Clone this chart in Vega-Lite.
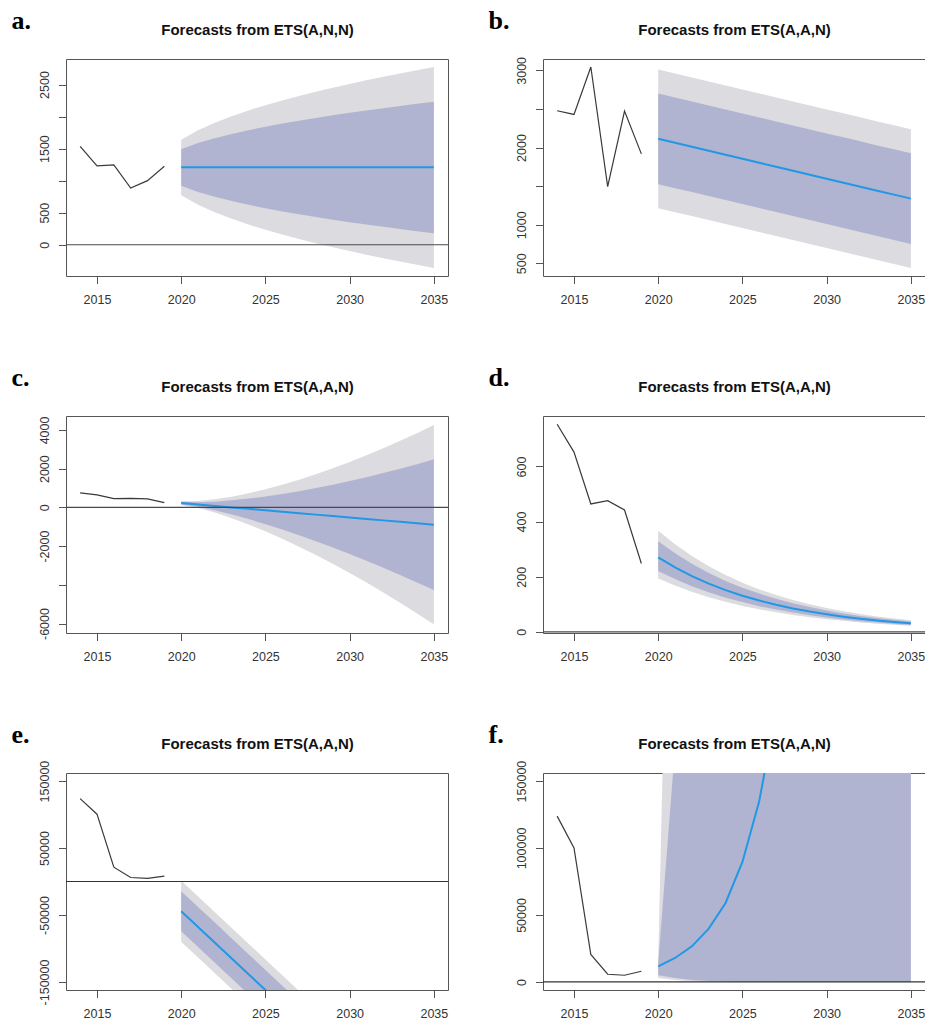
{
  "$schema": "https://vega.github.io/schema/vega-lite/v6.json",
  "background": "white",
  "padding": {"left": 10, "top": 6, "right": 0, "bottom": 0},
  "columns": 2,
  "spacing": {"row": 140, "column": 95},
  "bounds": "flush",
  "config": {
    "view": {"stroke": "#555555", "strokeWidth": 1},
    "axis": {"domain": false, "grid": false, "tickColor": "#555555", "tickSize": 7.5, "tickWidth": 1, "labelFont": "Liberation Sans", "labelFontSize": 12.5, "labelColor": "#333333", "labelOverlap": false, "labelBound": false, "labelFlush": false},
    "axisX": {"labelBaseline": "top", "labelPadding": 10, "titleFont": "Liberation Sans", "titleFontWeight": "bold", "titleFontSize": 15, "titleColor": "#111111", "titleX": 191, "titleY": -242, "titleAlign": "center", "titleBaseline": "alphabetic", "titleAngle": 0},
    "axisY": {"labelAngle": 270, "labelAlign": "center", "labelBaseline": "alphabetic", "labelPadding": 10, "titleFont": "Liberation Serif", "titleFontWeight": "bold", "titleFontSize": 26, "titleColor": "#000000", "titleX": -55, "titleY": -31, "titleAlign": "left", "titleBaseline": "alphabetic", "titleAngle": 0}
  },
  "concat": [
    {
      "width": 382, "height": 217,
      "data": {"values": [
        {"year": 2014, "actual": 1536}, {"year": 2015, "actual": 1229}, {"year": 2016, "actual": 1245},
        {"year": 2017, "actual": 885}, {"year": 2018, "actual": 1000}, {"year": 2019, "actual": 1224},
        {"year": 2020, "fc": 1207, "lo95": 771, "lo80": 921, "hi80": 1489, "hi95": 1639},
        {"year": 2021, "fc": 1207, "lo95": 622, "lo80": 824, "hi80": 1586, "hi95": 1788},
        {"year": 2022, "fc": 1207, "lo95": 505, "lo80": 747, "hi80": 1663, "hi95": 1905},
        {"year": 2023, "fc": 1207, "lo95": 404, "lo80": 681, "hi80": 1729, "hi95": 2006},
        {"year": 2024, "fc": 1207, "lo95": 314, "lo80": 622, "hi80": 1788, "hi95": 2096},
        {"year": 2025, "fc": 1207, "lo95": 233, "lo80": 569, "hi80": 1841, "hi95": 2177},
        {"year": 2026, "fc": 1207, "lo95": 158, "lo80": 520, "hi80": 1890, "hi95": 2252},
        {"year": 2027, "fc": 1207, "lo95": 88, "lo80": 474, "hi80": 1936, "hi95": 2322},
        {"year": 2028, "fc": 1207, "lo95": 22, "lo80": 431, "hi80": 1979, "hi95": 2388},
        {"year": 2029, "fc": 1207, "lo95": -40, "lo80": 390, "hi80": 2020, "hi95": 2450},
        {"year": 2030, "fc": 1207, "lo95": -99, "lo80": 352, "hi80": 2058, "hi95": 2509},
        {"year": 2031, "fc": 1207, "lo95": -156, "lo80": 314, "hi80": 2096, "hi95": 2566},
        {"year": 2032, "fc": 1207, "lo95": -210, "lo80": 279, "hi80": 2131, "hi95": 2620},
        {"year": 2033, "fc": 1207, "lo95": -263, "lo80": 245, "hi80": 2165, "hi95": 2673},
        {"year": 2034, "fc": 1207, "lo95": -314, "lo80": 211, "hi80": 2199, "hi95": 2724},
        {"year": 2035, "fc": 1207, "lo95": -363, "lo80": 179, "hi80": 2231, "hi95": 2773}
      ]},
      "layer": [
        {"transform": [{"filter": "isValid(datum.lo95)"}], "mark": {"type": "area", "color": "#DBDBE0", "clip": true},
         "encoding": {
           "x": {"field": "year", "type": "quantitative", "scale": {"domain": [2013.16, 2035.84], "nice": false, "zero": false}, "axis": {"values": [2015, 2020, 2025, 2030, 2035], "labelExpr": "toString(datum.value)", "title": "Forecasts from ETS(A,N,N)"}},
           "y": {"field": "lo95", "type": "quantitative", "scale": {"domain": [-488, 2898], "nice": false, "zero": false}, "axis": {"values": [0, 500, 1000, 1500, 2000, 2500], "labelExpr": "indexof([0, 500, 1500, 2500], datum.value) >= 0 ? toString(datum.value) : ''", "title": "a."}},
           "y2": {"field": "hi95"}}},
        {"transform": [{"filter": "isValid(datum.lo80)"}], "mark": {"type": "area", "color": "#B0B4D0", "clip": true},
         "encoding": {"x": {"field": "year", "type": "quantitative"}, "y": {"field": "lo80", "type": "quantitative"}, "y2": {"field": "hi80"}}},
        {"transform": [{"filter": "isValid(datum.actual)"}], "mark": {"type": "line", "color": "#3a3a3a", "strokeWidth": 1.2, "clip": true},
         "encoding": {"x": {"field": "year", "type": "quantitative"}, "y": {"field": "actual", "type": "quantitative"}}},
        {"transform": [{"filter": "isValid(datum.fc)"}], "mark": {"type": "line", "color": "#2297E6", "strokeWidth": 2, "clip": true},
         "encoding": {"x": {"field": "year", "type": "quantitative"}, "y": {"field": "fc", "type": "quantitative"}}},
        {"data": {"values": [{"level": 0}]}, "mark": {"type": "rule", "color": "#4a4a4a", "strokeWidth": 1.2, "clip": true},
         "encoding": {"y": {"field": "level", "type": "quantitative"}}}
      ]
    },
    {
      "width": 382, "height": 217,
      "data": {"values": [
        {"year": 2014, "actual": 2477}, {"year": 2015, "actual": 2429}, {"year": 2016, "actual": 3043},
        {"year": 2017, "actual": 1494}, {"year": 2018, "actual": 2472}, {"year": 2019, "actual": 1918},
        {"year": 2020, "fc": 2113, "lo95": 1215, "lo80": 1526, "hi80": 2700, "hi95": 3011},
        {"year": 2021, "fc": 2061, "lo95": 1163, "lo80": 1474, "hi80": 2648, "hi95": 2959},
        {"year": 2022, "fc": 2010, "lo95": 1112, "lo80": 1423, "hi80": 2597, "hi95": 2908},
        {"year": 2023, "fc": 1958, "lo95": 1060, "lo80": 1371, "hi80": 2545, "hi95": 2856},
        {"year": 2024, "fc": 1906, "lo95": 1008, "lo80": 1319, "hi80": 2493, "hi95": 2804},
        {"year": 2025, "fc": 1855, "lo95": 957, "lo80": 1268, "hi80": 2442, "hi95": 2753},
        {"year": 2026, "fc": 1803, "lo95": 905, "lo80": 1216, "hi80": 2390, "hi95": 2701},
        {"year": 2027, "fc": 1751, "lo95": 853, "lo80": 1164, "hi80": 2338, "hi95": 2649},
        {"year": 2028, "fc": 1700, "lo95": 802, "lo80": 1113, "hi80": 2287, "hi95": 2598},
        {"year": 2029, "fc": 1648, "lo95": 750, "lo80": 1061, "hi80": 2235, "hi95": 2546},
        {"year": 2030, "fc": 1596, "lo95": 698, "lo80": 1009, "hi80": 2183, "hi95": 2494},
        {"year": 2031, "fc": 1545, "lo95": 647, "lo80": 958, "hi80": 2132, "hi95": 2443},
        {"year": 2032, "fc": 1493, "lo95": 595, "lo80": 906, "hi80": 2080, "hi95": 2391},
        {"year": 2033, "fc": 1441, "lo95": 543, "lo80": 854, "hi80": 2028, "hi95": 2339},
        {"year": 2034, "fc": 1390, "lo95": 492, "lo80": 803, "hi80": 1977, "hi95": 2288},
        {"year": 2035, "fc": 1338, "lo95": 440, "lo80": 751, "hi80": 1925, "hi95": 2236}
      ]},
      "layer": [
        {"transform": [{"filter": "isValid(datum.lo95)"}], "mark": {"type": "area", "color": "#DBDBE0", "clip": true},
         "encoding": {
           "x": {"field": "year", "type": "quantitative", "scale": {"domain": [2013.16, 2035.84], "nice": false, "zero": false}, "axis": {"values": [2015, 2020, 2025, 2030, 2035], "labelExpr": "toString(datum.value)", "title": "Forecasts from ETS(A,A,N)"}},
           "y": {"field": "lo95", "type": "quantitative", "scale": {"domain": [336, 3147], "nice": false, "zero": false}, "axis": {"values": [500, 1000, 1500, 2000, 2500, 3000], "labelExpr": "indexof([500, 1000, 2000, 3000], datum.value) >= 0 ? toString(datum.value) : ''", "title": "b."}},
           "y2": {"field": "hi95"}}},
        {"transform": [{"filter": "isValid(datum.lo80)"}], "mark": {"type": "area", "color": "#B0B4D0", "clip": true},
         "encoding": {"x": {"field": "year", "type": "quantitative"}, "y": {"field": "lo80", "type": "quantitative"}, "y2": {"field": "hi80"}}},
        {"transform": [{"filter": "isValid(datum.actual)"}], "mark": {"type": "line", "color": "#3a3a3a", "strokeWidth": 1.2, "clip": true},
         "encoding": {"x": {"field": "year", "type": "quantitative"}, "y": {"field": "actual", "type": "quantitative"}}},
        {"transform": [{"filter": "isValid(datum.fc)"}], "mark": {"type": "line", "color": "#2297E6", "strokeWidth": 2, "clip": true},
         "encoding": {"x": {"field": "year", "type": "quantitative"}, "y": {"field": "fc", "type": "quantitative"}}}
      ]
    },
    {
      "width": 382, "height": 217,
      "data": {"values": [
        {"year": 2014, "actual": 745}, {"year": 2015, "actual": 641}, {"year": 2016, "actual": 450},
        {"year": 2017, "actual": 465}, {"year": 2018, "actual": 434}, {"year": 2019, "actual": 243},
        {"year": 2020, "fc": 220, "lo95": 119, "lo80": 154, "hi80": 286, "hi95": 321},
        {"year": 2021, "fc": 146, "lo95": -32, "lo80": 29, "hi80": 263, "hi95": 324},
        {"year": 2022, "fc": 71, "lo95": -271, "lo80": -153, "hi80": 295, "hi95": 413},
        {"year": 2023, "fc": -3, "lo95": -559, "lo80": -368, "hi80": 362, "hi95": 553},
        {"year": 2024, "fc": -77, "lo95": -883, "lo80": -606, "hi80": 452, "hi95": 729},
        {"year": 2025, "fc": -152, "lo95": -1240, "lo80": -866, "hi80": 562, "hi95": 936},
        {"year": 2026, "fc": -226, "lo95": -1623, "lo80": -1142, "hi80": 690, "hi95": 1171},
        {"year": 2027, "fc": -300, "lo95": -2032, "lo80": -1436, "hi80": 836, "hi95": 1432},
        {"year": 2028, "fc": -375, "lo95": -2464, "lo80": -1745, "hi80": 995, "hi95": 1714},
        {"year": 2029, "fc": -449, "lo95": -2917, "lo80": -2068, "hi80": 1170, "hi95": 2019},
        {"year": 2030, "fc": -523, "lo95": -3392, "lo80": -2405, "hi80": 1359, "hi95": 2346},
        {"year": 2031, "fc": -598, "lo95": -3886, "lo80": -2755, "hi80": 1559, "hi95": 2690},
        {"year": 2032, "fc": -672, "lo95": -4398, "lo80": -3116, "hi80": 1772, "hi95": 3054},
        {"year": 2033, "fc": -746, "lo95": -4928, "lo80": -3489, "hi80": 1997, "hi95": 3436},
        {"year": 2034, "fc": -821, "lo95": -5477, "lo80": -3875, "hi80": 2233, "hi95": 3835},
        {"year": 2035, "fc": -895, "lo95": -6041, "lo80": -4271, "hi80": 2481, "hi95": 4251}
      ]},
      "layer": [
        {"transform": [{"filter": "isValid(datum.lo95)"}], "mark": {"type": "area", "color": "#DBDBE0", "clip": true},
         "encoding": {
           "x": {"field": "year", "type": "quantitative", "scale": {"domain": [2013.16, 2035.84], "nice": false, "zero": false}, "axis": {"values": [2015, 2020, 2025, 2030, 2035], "labelExpr": "toString(datum.value)", "title": "Forecasts from ETS(A,A,N)"}},
           "y": {"field": "lo95", "type": "quantitative", "scale": {"domain": [-6490, 4720], "nice": false, "zero": false}, "axis": {"values": [-6000, -4000, -2000, 0, 2000, 4000], "labelExpr": "datum.value == -4000 ? '' : toString(datum.value)", "title": "c."}},
           "y2": {"field": "hi95"}}},
        {"transform": [{"filter": "isValid(datum.lo80)"}], "mark": {"type": "area", "color": "#B0B4D0", "clip": true},
         "encoding": {"x": {"field": "year", "type": "quantitative"}, "y": {"field": "lo80", "type": "quantitative"}, "y2": {"field": "hi80"}}},
        {"transform": [{"filter": "isValid(datum.actual)"}], "mark": {"type": "line", "color": "#3a3a3a", "strokeWidth": 1.2, "clip": true},
         "encoding": {"x": {"field": "year", "type": "quantitative"}, "y": {"field": "actual", "type": "quantitative"}}},
        {"transform": [{"filter": "isValid(datum.fc)"}], "mark": {"type": "line", "color": "#2297E6", "strokeWidth": 2, "clip": true},
         "encoding": {"x": {"field": "year", "type": "quantitative"}, "y": {"field": "fc", "type": "quantitative"}}},
        {"data": {"values": [{"level": 0}]}, "mark": {"type": "rule", "color": "#4a4a4a", "strokeWidth": 1.2, "clip": true},
         "encoding": {"y": {"field": "level", "type": "quantitative"}}}
      ]
    },
    {
      "width": 382, "height": 217,
      "data": {"values": [
        {"year": 2014, "actual": 753}, {"year": 2015, "actual": 652}, {"year": 2016, "actual": 464},
        {"year": 2017, "actual": 476}, {"year": 2018, "actual": 442}, {"year": 2019, "actual": 248},
        {"year": 2020, "fc": 270, "lo95": 194, "lo80": 221, "hi80": 329, "hi95": 367},
        {"year": 2021, "fc": 233.7, "lo95": 168, "lo80": 192, "hi80": 285, "hi95": 318},
        {"year": 2022, "fc": 202.3, "lo95": 146, "lo80": 166, "hi80": 247, "hi95": 275},
        {"year": 2023, "fc": 175.1, "lo95": 126, "lo80": 144, "hi80": 214, "hi95": 238},
        {"year": 2024, "fc": 151.6, "lo95": 109, "lo80": 124, "hi80": 185, "hi95": 206},
        {"year": 2025, "fc": 131.2, "lo95": 94, "lo80": 108, "hi80": 160, "hi95": 178},
        {"year": 2026, "fc": 113.6, "lo95": 82, "lo80": 93, "hi80": 139, "hi95": 154},
        {"year": 2027, "fc": 98.3, "lo95": 71, "lo80": 81, "hi80": 120, "hi95": 134},
        {"year": 2028, "fc": 85.1, "lo95": 61, "lo80": 70, "hi80": 104, "hi95": 116},
        {"year": 2029, "fc": 73.7, "lo95": 53, "lo80": 60, "hi80": 90, "hi95": 100},
        {"year": 2030, "fc": 63.8, "lo95": 46, "lo80": 52, "hi80": 78, "hi95": 87},
        {"year": 2031, "fc": 55.2, "lo95": 40, "lo80": 45, "hi80": 67, "hi95": 75},
        {"year": 2032, "fc": 47.8, "lo95": 34, "lo80": 39, "hi80": 58, "hi95": 65},
        {"year": 2033, "fc": 41.3, "lo95": 30, "lo80": 34, "hi80": 50, "hi95": 56},
        {"year": 2034, "fc": 35.8, "lo95": 26, "lo80": 29, "hi80": 44, "hi95": 49},
        {"year": 2035, "fc": 31.0, "lo95": 22, "lo80": 25, "hi80": 38, "hi95": 42}
      ]},
      "layer": [
        {"transform": [{"filter": "isValid(datum.lo95)"}], "mark": {"type": "area", "color": "#DBDBE0", "clip": true},
         "encoding": {
           "x": {"field": "year", "type": "quantitative", "scale": {"domain": [2013.16, 2035.84], "nice": false, "zero": false}, "axis": {"values": [2015, 2020, 2025, 2030, 2035], "labelExpr": "toString(datum.value)", "title": "Forecasts from ETS(A,A,N)"}},
           "y": {"field": "lo95", "type": "quantitative", "scale": {"domain": [-4, 783], "nice": false, "zero": false}, "axis": {"values": [0, 200, 400, 600], "labelExpr": "toString(datum.value)", "title": "d."}},
           "y2": {"field": "hi95"}}},
        {"transform": [{"filter": "isValid(datum.lo80)"}], "mark": {"type": "area", "color": "#B0B4D0", "clip": true},
         "encoding": {"x": {"field": "year", "type": "quantitative"}, "y": {"field": "lo80", "type": "quantitative"}, "y2": {"field": "hi80"}}},
        {"transform": [{"filter": "isValid(datum.actual)"}], "mark": {"type": "line", "color": "#3a3a3a", "strokeWidth": 1.2, "clip": true},
         "encoding": {"x": {"field": "year", "type": "quantitative"}, "y": {"field": "actual", "type": "quantitative"}}},
        {"transform": [{"filter": "isValid(datum.fc)"}], "mark": {"type": "line", "color": "#2297E6", "strokeWidth": 2, "clip": true},
         "encoding": {"x": {"field": "year", "type": "quantitative"}, "y": {"field": "fc", "type": "quantitative"}}},
        {"data": {"values": [{"level": 0}]}, "mark": {"type": "rule", "color": "#4a4a4a", "strokeWidth": 1.2, "clip": true},
         "encoding": {"y": {"field": "level", "type": "quantitative"}}}
      ]
    },
    {
      "width": 382, "height": 217,
      "data": {"values": [
        {"year": 2014, "actual": 123700}, {"year": 2015, "actual": 100500}, {"year": 2016, "actual": 21400},
        {"year": 2017, "actual": 6000}, {"year": 2018, "actual": 4700}, {"year": 2019, "actual": 8000},
        {"year": 2020, "fc": -44400, "lo95": -89900, "lo80": -74400, "hi80": -14400, "hi95": 1100},
        {"year": 2021, "fc": -67900, "lo95": -113400, "lo80": -97900, "hi80": -37900, "hi95": -22400},
        {"year": 2022, "fc": -91400, "lo95": -136900, "lo80": -121400, "hi80": -61400, "hi95": -45900},
        {"year": 2023, "fc": -115000, "lo95": -160500, "lo80": -145000, "hi80": -85000, "hi95": -69500},
        {"year": 2024, "fc": -138500, "lo95": -184000, "lo80": -168500, "hi80": -108500, "hi95": -93000},
        {"year": 2025, "fc": -162000, "lo95": -207500, "lo80": -192000, "hi80": -132000, "hi95": -116500},
        {"year": 2026, "fc": -185500, "lo95": -231000, "lo80": -215500, "hi80": -155500, "hi95": -140000},
        {"year": 2027, "fc": -209000, "lo95": -254500, "lo80": -239000, "hi80": -179000, "hi95": -163500},
        {"year": 2028, "fc": -232600, "lo95": -278100, "lo80": -262600, "hi80": -202600, "hi95": -187100},
        {"year": 2029, "fc": -256100, "lo95": -301600, "lo80": -286100, "hi80": -226100, "hi95": -210600},
        {"year": 2030, "fc": -279600, "lo95": -325100, "lo80": -309600, "hi80": -249600, "hi95": -234100},
        {"year": 2031, "fc": -303100, "lo95": -348600, "lo80": -333100, "hi80": -273100, "hi95": -257600},
        {"year": 2032, "fc": -326600, "lo95": -372100, "lo80": -356600, "hi80": -296600, "hi95": -281100},
        {"year": 2033, "fc": -350200, "lo95": -395700, "lo80": -380200, "hi80": -320200, "hi95": -304700},
        {"year": 2034, "fc": -373700, "lo95": -419200, "lo80": -403700, "hi80": -343700, "hi95": -328200},
        {"year": 2035, "fc": -397200, "lo95": -442700, "lo80": -427200, "hi80": -367200, "hi95": -351700}
      ]},
      "layer": [
        {"transform": [{"filter": "isValid(datum.lo95)"}], "mark": {"type": "area", "color": "#DBDBE0", "clip": true},
         "encoding": {
           "x": {"field": "year", "type": "quantitative", "scale": {"domain": [2013.16, 2035.84], "nice": false, "zero": false}, "axis": {"values": [2015, 2020, 2025, 2030, 2035], "labelExpr": "toString(datum.value)", "title": "Forecasts from ETS(A,A,N)"}},
           "y": {"field": "lo95", "type": "quantitative", "scale": {"domain": [-162000, 162000], "nice": false, "zero": false}, "axis": {"values": [-150000, -100000, -50000, 0, 50000, 100000, 150000], "labelExpr": "indexof([-150000, -50000, 50000, 150000], datum.value) >= 0 ? toString(datum.value) : ''", "title": "e."}},
           "y2": {"field": "hi95"}}},
        {"transform": [{"filter": "isValid(datum.lo80)"}], "mark": {"type": "area", "color": "#B0B4D0", "clip": true},
         "encoding": {"x": {"field": "year", "type": "quantitative"}, "y": {"field": "lo80", "type": "quantitative"}, "y2": {"field": "hi80"}}},
        {"transform": [{"filter": "isValid(datum.actual)"}], "mark": {"type": "line", "color": "#3a3a3a", "strokeWidth": 1.2, "clip": true},
         "encoding": {"x": {"field": "year", "type": "quantitative"}, "y": {"field": "actual", "type": "quantitative"}}},
        {"transform": [{"filter": "isValid(datum.fc)"}], "mark": {"type": "line", "color": "#2297E6", "strokeWidth": 2, "clip": true},
         "encoding": {"x": {"field": "year", "type": "quantitative"}, "y": {"field": "fc", "type": "quantitative"}}},
        {"data": {"values": [{"level": 0}]}, "mark": {"type": "rule", "color": "#333333", "strokeWidth": 1.2, "clip": true},
         "encoding": {"y": {"field": "level", "type": "quantitative"}}}
      ]
    },
    {
      "width": 382, "height": 217,
      "data": {"values": [
        {"year": 2014, "actual": 123800}, {"year": 2015, "actual": 100100}, {"year": 2016, "actual": 20500},
        {"year": 2017, "actual": 5750}, {"year": 2018, "actual": 5000}, {"year": 2019, "actual": 8000},
        {"year": 2020, "fc": 11700, "lo95": 3000, "lo80": 5000, "hi80": 14000, "hi95": 16000},
        {"year": 2021, "fc": 17900, "lo95": 1400, "lo80": 3000, "hi80": 175000, "hi95": 560000},
        {"year": 2022, "fc": 26600, "lo95": 600, "lo80": 1500, "hi80": 900000, "hi95": 4000000},
        {"year": 2023, "fc": 39800, "lo95": 250, "lo80": 800, "hi80": 2500000, "hi95": 13000000},
        {"year": 2024, "fc": 59000, "lo95": 100, "lo80": 400, "hi80": 5500000, "hi95": 32000000},
        {"year": 2025, "fc": 89600, "lo95": 40, "lo80": 200, "hi80": 10000000, "hi95": 65000000},
        {"year": 2026, "fc": 135000, "lo95": 16, "lo80": 100, "hi80": 17000000, "hi95": 120000000},
        {"year": 2027, "fc": 203000, "lo95": 6, "lo80": 50, "hi80": 27000000, "hi95": 200000000},
        {"year": 2028, "fc": 304000, "lo95": 3, "lo80": 25, "hi80": 40000000, "hi95": 320000000},
        {"year": 2029, "fc": 457000, "lo95": 1, "lo80": 12, "hi80": 58000000, "hi95": 500000000},
        {"year": 2030, "fc": 685000, "lo95": 0, "lo80": 6, "hi80": 82000000, "hi95": 750000000},
        {"year": 2031, "fc": 1030000, "lo95": 0, "lo80": 3, "hi80": 110000000, "hi95": 1100000000},
        {"year": 2032, "fc": 1540000, "lo95": 0, "lo80": 2, "hi80": 150000000, "hi95": 1600000000},
        {"year": 2033, "fc": 2310000, "lo95": 0, "lo80": 1, "hi80": 200000000, "hi95": 2300000000},
        {"year": 2034, "fc": 3470000, "lo95": 0, "lo80": 1, "hi80": 270000000, "hi95": 3200000000},
        {"year": 2035, "fc": 5200000, "lo95": 0, "lo80": 0, "hi80": 350000000, "hi95": 4400000000}
      ]},
      "layer": [
        {"transform": [{"filter": "isValid(datum.lo95)"}], "mark": {"type": "area", "color": "#DBDBE0", "clip": true},
         "encoding": {
           "x": {"field": "year", "type": "quantitative", "scale": {"domain": [2013.16, 2035.84], "nice": false, "zero": false}, "axis": {"values": [2015, 2020, 2025, 2030, 2035], "labelExpr": "toString(datum.value)", "title": "Forecasts from ETS(A,A,N)"}},
           "y": {"field": "lo95", "type": "quantitative", "scale": {"domain": [-6000, 156000], "nice": false, "zero": false}, "axis": {"values": [0, 50000, 100000, 150000], "labelExpr": "toString(datum.value)", "title": "f."}},
           "y2": {"field": "hi95"}}},
        {"transform": [{"filter": "isValid(datum.lo80)"}], "mark": {"type": "area", "color": "#B0B4D0", "clip": true},
         "encoding": {"x": {"field": "year", "type": "quantitative"}, "y": {"field": "lo80", "type": "quantitative"}, "y2": {"field": "hi80"}}},
        {"transform": [{"filter": "isValid(datum.actual)"}], "mark": {"type": "line", "color": "#3a3a3a", "strokeWidth": 1.2, "clip": true},
         "encoding": {"x": {"field": "year", "type": "quantitative"}, "y": {"field": "actual", "type": "quantitative"}}},
        {"transform": [{"filter": "isValid(datum.fc)"}], "mark": {"type": "line", "color": "#2297E6", "strokeWidth": 2, "clip": true},
         "encoding": {"x": {"field": "year", "type": "quantitative"}, "y": {"field": "fc", "type": "quantitative"}}},
        {"data": {"values": [{"level": 0}]}, "mark": {"type": "rule", "color": "#333333", "strokeWidth": 1.2, "clip": true},
         "encoding": {"y": {"field": "level", "type": "quantitative"}}}
      ]
    }
  ]
}
